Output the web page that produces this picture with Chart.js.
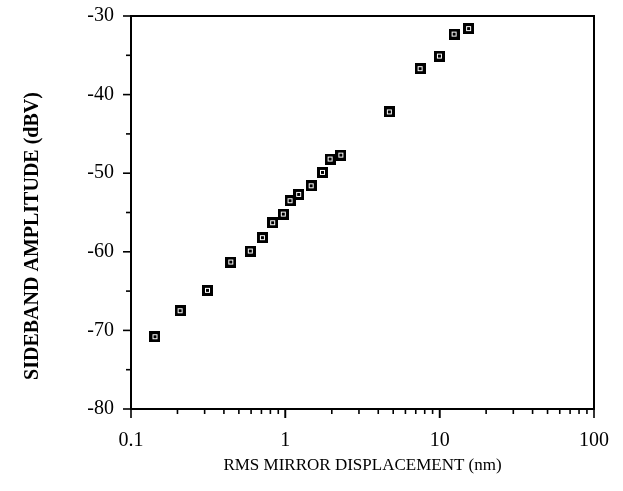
<!DOCTYPE html>
<html>
<head>
<meta charset="utf-8">
<script src="https://cdn.jsdelivr.net/npm/chart.js@4"></script>
<style>
  html, body { margin: 0; padding: 0; background: #fff; }
  #wrap { width: 623px; height: 491px; }
</style>
</head>
<body>
<div id="wrap"><canvas id="c" width="623" height="491"></canvas></div>
<script>
// data
const displacementNm = [0.143, 0.208, 0.313, 0.443, 0.593, 0.71, 0.828, 0.97, 1.073, 1.22, 1.47, 1.74, 1.95, 2.29, 4.72, 7.47, 9.96, 12.4, 15.4];
const sidebandDbv   = [-70.8, -67.5, -64.9, -61.3, -59.9, -58.2, -56.3, -55.2, -53.5, -52.7, -51.6, -49.9, -48.2, -47.7, -42.2, -36.7, -35.1, -32.3, -31.6];
const xTickLabels = [0.1, 1, 10, 100];
const yTickLabels = [-80, -70, -60, -50, -40, -30];
const yTitle = 'SIDEBAND AMPLITUDE (dBV)';
const xTitle = 'RMS MIRROR DISPLACEMENT (nm)';

const serif = '"Liberation Serif", "Times New Roman", serif';

// square marker with a small hollow centre
function makeMarker() {
    const cv = document.createElement('canvas');
    cv.width = 11; cv.height = 11;
    const g = cv.getContext('2d');
    g.fillStyle = '#000';
    g.fillRect(0, 0, 11, 11);
    g.fillStyle = '#fff';
    g.fillRect(3, 3, 5, 5);
    g.fillStyle = '#000';
    g.fillRect(4, 4, 3, 3);
    return cv;
}

const points = displacementNm.map((x, i) => ({ x, y: sidebandDbv[i] }));

// frame, outward ticks, and the y title (sits a bit below centre in the original)
const frameTicks = {
    id: 'frameTicks',
    afterDraw(chart) {
        const { ctx, chartArea: a, scales } = chart;
        ctx.save();
        ctx.strokeStyle = '#000';
        ctx.lineWidth = 2;
        ctx.strokeRect(a.left, a.top, a.right - a.left, a.bottom - a.top);
        ctx.lineWidth = 1.6;
        const ys = scales.y;
        for (let v = -80; v <= -30; v += 5) {
            const py = ys.getPixelForValue(v);
            const len = v % 10 === 0 ? 8 : 5;
            ctx.beginPath();
            ctx.moveTo(a.left, py);
            ctx.lineTo(a.left - len, py);
            ctx.stroke();
        }
        const xs = scales.x;
        for (let d = 0.1; d < 100; d *= 10) {
            for (let m = 1; m <= 10; m++) {
                const px = xs.getPixelForValue(d * m);
                const len = (m === 1 || m === 10) ? 9 : 5;
                ctx.beginPath();
                ctx.moveTo(px, a.bottom);
                ctx.lineTo(px, a.bottom + len);
                ctx.stroke();
            }
        }
        // y title
        ctx.translate(33, 236);
        ctx.rotate(-Math.PI / 2);
        ctx.fillStyle = '#000';
        ctx.font = 'bold 20px ' + serif;
        ctx.textAlign = 'center';
        ctx.textBaseline = 'middle';
        ctx.fillText(yTitle, 0, 0);
        ctx.restore();
    }
};

new Chart(document.getElementById('c'), {
    type: 'scatter',
    data: {
        datasets: [{
            data: points,
            pointStyle: makeMarker(),
            pointRadius: 6,
            showLine: false
        }]
    },
    options: {
        responsive: false,
        animation: false,
        devicePixelRatio: 1,
        layout: { padding: { top: 16, right: 29, left: 0, bottom: 0 } },
        plugins: { legend: { display: false }, tooltip: { enabled: false } },
        scales: {
            x: {
                type: 'logarithmic',
                min: 0.1, max: 100,
                afterFit: s => { s.height = 82; s.paddingLeft = 0; s.paddingRight = 0; },
                afterBuildTicks: s => { s.ticks = xTickLabels.map(v => ({ value: v })); },
                grid: { display: false, drawTicks: false },
                border: { display: false },
                ticks: {
                    autoSkip: false,
                    maxRotation: 0,
                    padding: 20,
                    color: '#000',
                    font: { family: serif, size: 20 },
                    callback: v => String(v)
                },
                title: {
                    display: true,
                    text: xTitle,
                    color: '#000',
                    font: { family: serif, size: 17 },
                    padding: { top: 0, bottom: 15 }
                }
            },
            y: {
                min: -80, max: -30,
                afterFit: s => { s.width = 131; s.paddingTop = 0; s.paddingBottom = 0; },
                afterBuildTicks: s => { s.ticks = yTickLabels.map(v => ({ value: v })); },
                grid: { display: false, drawTicks: false },
                border: { display: false },
                ticks: {
                    padding: 17,
                    color: '#000',
                    font: { family: serif, size: 20 },
                    callback: v => String(v)
                }
            }
        }
    },
    plugins: [frameTicks]
});
</script>
</body>
</html>
